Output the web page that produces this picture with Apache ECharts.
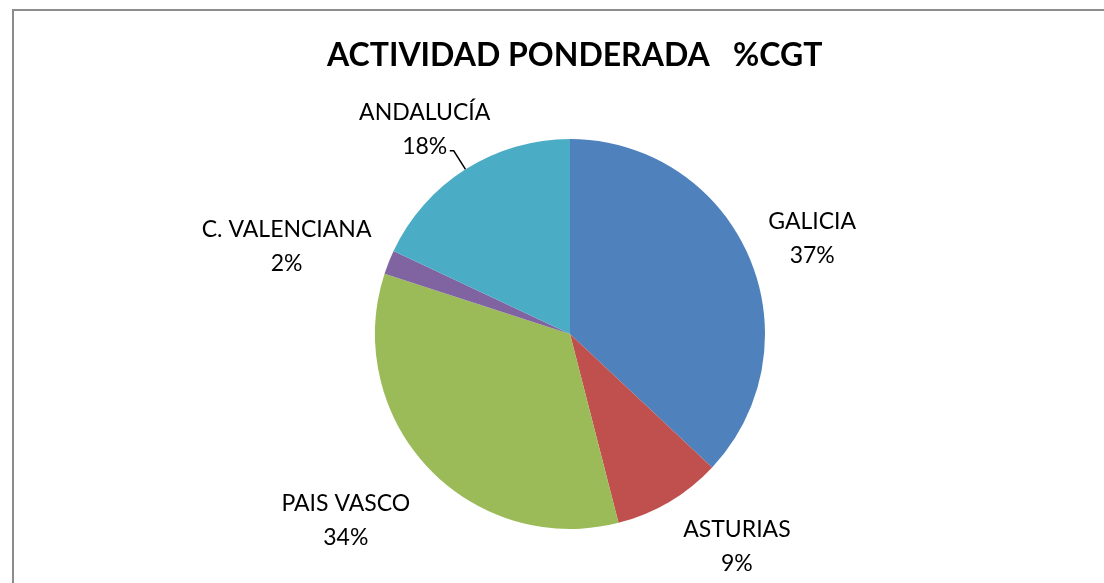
<!DOCTYPE html>
<html>
<head>
<meta charset="utf-8">
<script src="https://cdn.jsdelivr.net/npm/echarts@6/dist/echarts.min.js"></script>
<style>
  html, body { margin: 0; padding: 0; background: #fff; }
  #chart { width: 1104px; height: 583px; }
</style>
</head>
<body>
<div id="chart"></div>
<script>
// datos
var regiones = ["GALICIA", "ASTURIAS", "PAIS VASCO", "C. VALENCIANA", "ANDALUCÍA"];
var porcentajes = [37, 9, 34, 2, 18];
var colores = ["#4F81BD", "#C0504D", "#9BBB59", "#8064A2", "#4BACC6"];
var titulo = "ACTIVIDAD PONDERADA   %CGT";

// ajuste fino de las etiquetas (px); la ultima usa linea guia
var desplaza = [[-6, 10], [27, -16], [-26, 5], [-32, 10], null];

var chart = echarts.init(document.getElementById("chart"));

chart.setOption({
  animation: false,
  backgroundColor: "#fff",
  title: {
    text: titulo,
    left: 322,
    top: 35,
    textStyle: { fontFamily: "Lato", fontWeight: "bold", fontSize: 32, color: "#000" }
  },
  graphic: [{
    type: "polyline",
    shape: { points: [[13, 583], [13, 10], [1104, 10]] },
    style: { stroke: "#8c8c8c", lineWidth: 2, fill: null }
  }],
  series: [{
    type: "pie",
    center: [570, 334],
    radius: 195,
    startAngle: 90,
    clockwise: true,
    avoidLabelOverlap: false,
    data: regiones.map(function (r, i) {
      var item = {
        name: r,
        value: porcentajes[i],
        itemStyle: { color: colores[i] },
        labelLine: { show: false }
      };
      if (!desplaza[i]) {
        item.labelLine = { show: true, length: 22, length2: 4 };
        item.label = {
          formatter: "{n|{b}}\n{n|{c}%}",
          distanceToLabelLine: 3,
          rich: { n: { width: 44, align: "center", fontFamily: "Lato", fontSize: 23, lineHeight: 34, color: "#000" } }
        };
      }
      return item;
    }),
    label: {
      position: "outside",
      formatter: "{b}\n{c}%",
      fontFamily: "Lato",
      fontSize: 23,
      lineHeight: 34,
      color: "#000",
      align: "center"
    },
    labelLine: {
      length: 70,
      length2: 0,
      lineStyle: { color: "#000", width: 1.5 }
    },
    labelLayout: function (p) {
      var d = desplaza[p.dataIndex];
      if (!d) return { dy: -21 };
      return { align: "center", verticalAlign: "middle", dx: d[0], dy: d[1] };
    },
    emphasis: { disabled: true }
  }]
});
</script>
</body>
</html>
